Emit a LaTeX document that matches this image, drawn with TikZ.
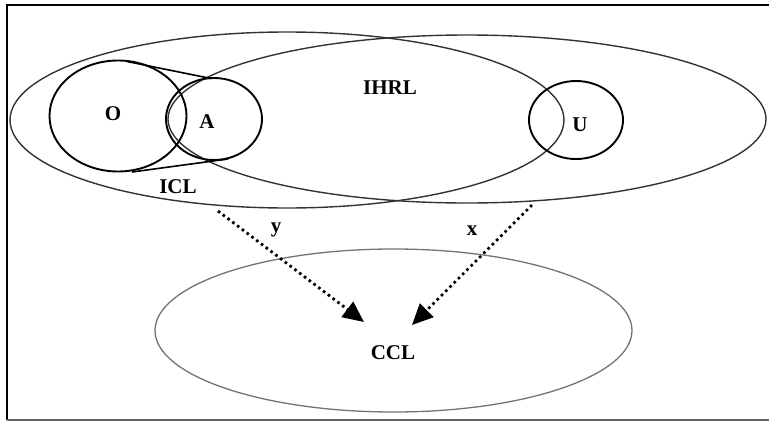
\documentclass[tikz,border=0pt]{standalone}
\usepackage{fontspec}
\setmainfont{Liberation Serif}
\usetikzlibrary{shapes.geometric,arrows.meta}
\begin{document}
\begin{tikzpicture}[x=1pt,y=-1pt,
  bigell/.style={draw=black!80,line width=1.4pt,ellipse,inner sep=0pt,fill=none},
  setell/.style={draw=black,line width=1.9pt,ellipse,inner sep=0pt},
  lab/.style={font=\fontsize{21}{24}\selectfont\bfseries,inner sep=0pt},
  dotarrow/.style={line width=2.8pt,dash pattern=on 2.6pt off 3.4pt,
    -{Triangle[length=21pt,width=19pt]}},
]
\useasboundingbox (0,0) rectangle (769,421);
% frame
\draw[line width=2pt,black] (769,5) -- (7,5) -- (7,420);
\draw[line width=1.5pt,black!60] (7,420) -- (769,420);
% big ellipses
\node[bigell,minimum width=554pt,minimum height=176pt] (icl) at (287,120) {};
\node[bigell,minimum width=598pt,minimum height=168pt] (ihrl) at (467,119) {};
\node[draw=black!55,line width=1.3pt,ellipse,inner sep=0pt,minimum width=477pt,minimum height=163pt] (ccl) at (393.5,330.5) {};
% small sets
\node[setell,minimum width=137pt,minimum height=111pt] (o) at (118,116) {};
\node[setell,minimum width=96pt,minimum height=82pt] (a) at (214,119) {};
\node[setell,minimum width=94pt,minimum height=78pt] (u) at (576,120) {};
% hull lines
\coordinate (ot) at (127,61.5);
\coordinate (at) at (211,78.5);
\coordinate (ob) at (132,172);
\coordinate (ab) at (228,159);
\draw[line width=1.6pt] (ot) -- (at);
\draw[line width=1.6pt] (ob) -- (ab);
% labels
\node[lab] (lo) at (113,114) {O};
\node[lab] (la) at (207,122) {A};
\node[lab] (lu) at (580,125) {U};
\node[lab] (lihrl) at (390,88) {IHRL};
\node[lab] (licl) at (178,187) {ICL};
\node[lab] (lccl) at (393,353) {CCL};
\node[lab] (ly) at (276,230) {y};
\node[lab] (lx) at (472,231) {x};
% arrows
\coordinate (ys) at (218,211);
\coordinate (ye) at (364,322);
\coordinate (xs) at (532,205);
\coordinate (xe) at (412,325);
\draw[dotarrow] (ys) -- (ye);
\draw[dotarrow] (xs) -- (xe);
\end{tikzpicture}
\end{document}
